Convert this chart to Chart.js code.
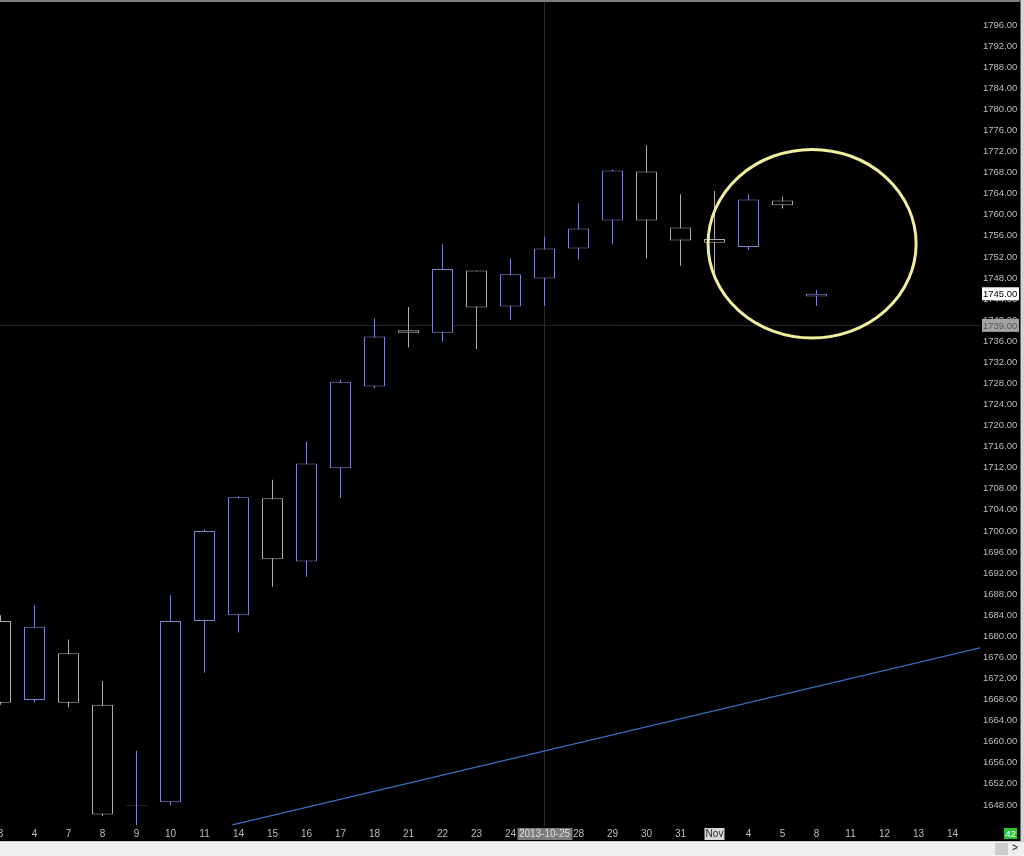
<!DOCTYPE html>
<html>
<head>
<meta charset="utf-8">
<title>candles</title>
<script src="https://cdn.jsdelivr.net/npm/chart.js"></script>
<style>
html, body { margin:0; padding:0; background:#000; }
#wrap { position:relative; width:1024px; height:856px; overflow:hidden; background:#000; }
#chartjs-0 { position:absolute; left:0; top:0; }
#topline { position:absolute; left:0; top:0; width:1024px; height:2px; background:#7d7d7d; }
#rightbar { position:absolute; left:1020px; top:0; width:4px; height:841px; background:#d4d4d4; border-left:1px solid #6a6a6a; box-sizing:border-box; }
#scroll { position:absolute; left:0; top:841px; width:1024px; height:15px; background:#f0f0f0; border-top:1px solid #c8c8c8; box-sizing:border-box; }
#thumb { position:absolute; left:995px; top:1px; width:13px; height:12px; background:#cdcdcd; }
#arrow { position:absolute; left:1012px; top:0px; font:bold 10px 'Liberation Sans', sans-serif; color:#505050; }
#count { position:absolute; left:1004px; top:828px; width:13px; height:11px; background:#2fbf2f; color:#fff; font:9.5px 'Liberation Sans',sans-serif; text-align:center; line-height:11px; }
</style>
</head>
<body>
<div id="wrap">
  <canvas id="chartjs-0" width="1020" height="841"></canvas>
  <div id="topline"></div>
  <div id="rightbar"></div>
  <div id="count">42</div>
  <div id="scroll"><div id="thumb"></div><div id="arrow">&gt;</div></div>
</div>
<script>
// bottom axis labels (one per bar slot, Oct -> Nov 2013)
var xLabels = ['3','4','7','8','9','10','11','14','15','16','17','18','21','22','23','24','25',
               '28','29','30','31','Nov','4','5','8','11','12','13','14'];

// daily candles
var open  = [1682.9, 1667.9, 1676.8, 1667.0, 1647.8, 1648.5, 1682.9, 1684.0, 1706.2, 1694.2, 1711.9, 1727.4, 1738.1,
             1737.6, 1749.4, 1742.6, 1747.9, 1753.6, 1758.9, 1768.2, 1757.6, 1755.4, 1753.9, 1762.7, 1744.5];
var high  = [1684.0, 1685.9, 1679.4, 1671.5, 1658.3, 1687.8, 1700.3, 1706.6, 1709.7, 1716.9, 1728.7, 1740.3, 1742.5,
             1754.4, 1749.4, 1751.7, 1755.8, 1762.2, 1768.6, 1773.2, 1763.9, 1764.5, 1763.9, 1763.4, 1745.7];
var low   = [1667.0, 1667.5, 1666.5, 1645.9, 1644.2, 1648.0, 1673.1, 1680.7, 1689.4, 1691.3, 1706.3, 1727.1, 1734.8,
             1735.9, 1734.5, 1740.0, 1742.7, 1751.5, 1754.4, 1751.7, 1750.3, 1747.8, 1753.3, 1761.2, 1742.7];
var close = [1667.4, 1681.8, 1667.4, 1646.2, 1647.9, 1682.9, 1700.0, 1706.4, 1694.6, 1712.8, 1728.3, 1736.9, 1737.6,
             1749.7, 1742.4, 1748.7, 1753.6, 1757.4, 1768.4, 1758.9, 1755.1, 1754.7, 1762.9, 1761.8, 1745.0];

// trend line, two anchors (x = bar slot)
var trendX = [6.82, 28.82];
var trendY = [1644.2, 1677.8];

// crosshair and last price
var crossIndex = 16, crossDate = '2013-10-25', crossPrice = 1739.00;
var lastPrice = close[close.length - 1];
var monthIndex = xLabels.indexOf('Nov');

// hand drawn ring around the last bars
var ringX = 23.87, ringY = 1754.5, ringRX = 3.06, ringRY = 17.9;

var upColor = '#8383cd', downColor = '#adadad';
var FONT = '"Liberation Sans", Arial, sans-serif';

var xMin = -0.5 / 34, xMax = xMin + 980 / 34;
var yMin = 1644, yMax = 1800.75;

var wicks = [], bodies = [], colors = [];
for (var i = 0; i < open.length; i++) {
	wicks.push({ x : i, y : [ low[i], high[i] ] });
	bodies.push({ x : i, y : [ open[i], close[i] ] });
	colors.push(close[i] >= open[i] ? upColor : downColor);
}

var overlay = {
	id : 'overlay',
	beforeDraw : function(chart) {
		// month label box sits behind the tick text
		var ctx = chart.ctx, px = chart.scales.x.getPixelForValue(monthIndex);
		ctx.save();
		ctx.fillStyle = '#d6d6d6';
		ctx.fillRect(px - 10, chart.chartArea.bottom + 2, 20, 12);
		ctx.restore();
	},
	afterDraw : function(chart) {
		var ctx = chart.ctx, sx = chart.scales.x, sy = chart.scales.y;
		ctx.save();

		// yellow ring
		var cx = sx.getPixelForValue(ringX), cy = sy.getPixelForValue(ringY);
		var rx = sx.getPixelForValue(ringX + ringRX) - cx;
		var ry = cy - sy.getPixelForValue(ringY + ringRY);
		ctx.strokeStyle = '#f2eea0';
		ctx.lineWidth = 3;
		ctx.beginPath();
		ctx.ellipse(cx, cy, rx, ry, 0, 0, Math.PI * 2);
		ctx.stroke();

		ctx.font = '10px ' + FONT;
		ctx.textBaseline = 'middle';

		// crosshair date on the time axis
		var dx = sx.getPixelForValue(crossIndex), by = chart.chartArea.bottom + 2;
		ctx.fillStyle = '#7c7c7c';
		ctx.fillRect(dx - 27, by, 55, 12);
		ctx.fillStyle = '#dedede';
		ctx.textAlign = 'center';
		ctx.fillText(crossDate, dx, by + 6.5);

		// price boxes on the right axis
		ctx.font = '9.5px ' + FONT;
		ctx.textAlign = 'left';
		var left = chart.chartArea.right + 2;
		var py = sy.getPixelForValue(crossPrice);
		ctx.fillStyle = '#a3a3a3';
		ctx.fillRect(left, py - 6.5, 37, 13);
		ctx.fillStyle = '#555555';
		ctx.fillText(crossPrice.toFixed(2), left + 1, py + 0.5);

		py = sy.getPixelForValue(lastPrice);
		ctx.fillStyle = '#ffffff';
		ctx.fillRect(left, py - 6.5, 37, 13);
		ctx.fillStyle = '#000000';
		ctx.fillText(lastPrice.toFixed(2), left + 1, py + 0.5);

		ctx.restore();
	}
};

new Chart(document.getElementById("chartjs-0"), {
	"type" : "bar",
	"data" : {
		"datasets" : [ {
			"type" : "line",	// crosshair, horizontal
			"data" : [ { x : xMin, y : crossPrice }, { x : xMax, y : crossPrice } ],
			"borderColor" : "#2a2a2a",
			"borderWidth" : 1,
			"pointRadius" : 0,
			"order" : 10
		}, {
			"type" : "line",	// crosshair, vertical
			"data" : [ { x : crossIndex, y : yMin }, { x : crossIndex, y : yMax } ],
			"borderColor" : "#2a2a2a",
			"borderWidth" : 1,
			"pointRadius" : 0,
			"order" : 9
		}, {
			"label" : "wick",
			"data" : wicks,
			"backgroundColor" : colors,
			"barThickness" : 1,
			"grouped" : false,
			"inflateAmount" : 0,
			"order" : 5
		}, {
			"label" : "body",
			"data" : bodies,
			"backgroundColor" : "#000000",
			"borderColor" : colors,
			"borderWidth" : 1,
			"borderSkipped" : false,
			"barThickness" : 21,
			"grouped" : false,
			"inflateAmount" : 0,
			"order" : 4
		}, {
			"type" : "line",	// trend line
			"data" : [ { x : trendX[0], y : trendY[0] }, { x : trendX[1], y : trendY[1] } ],
			"borderColor" : "#3b6fc4",
			"borderWidth" : 1.2,
			"pointRadius" : 0,
			"order" : 3
		} ]
	},
	"options" : {
		"responsive" : false,
		"animation" : false,
		"layout" : { "padding" : 0 },
		"plugins" : { "legend" : { "display" : false }, "tooltip" : { "enabled" : false } },
		"scales" : {
			"x" : {
				"type" : "linear",
				"min" : xMin,
				"max" : xMax,
				"offset" : false,
				"grid" : { "display" : false, "drawTicks" : false },
				"border" : { "display" : false },
				"ticks" : {
					"padding" : 2,
					"maxRotation" : 0,
					"autoSkip" : false,
					"font" : { "family" : FONT, "size" : 10 },
					"color" : function(c) { return c.tick && c.tick.value === monthIndex ? '#2a2a2a' : '#bdbdbd'; },
					"callback" : function(v) { return xLabels[v]; }
				},
				"afterBuildTicks" : function(s) {
					s.ticks = xLabels.map(function(l, i) { return { value : i }; });
				},
				"afterFit" : function(s) {
					s.height = 15;
					s.paddingLeft = 0;
					s.paddingRight = 0;
				}
			},
			"y" : {
				"position" : "right",
				"min" : yMin,
				"max" : yMax,
				"grid" : { "display" : false, "drawTicks" : false },
				"border" : { "display" : false },
				"ticks" : {
					"stepSize" : 4,
					"padding" : 3,
					"font" : { "family" : FONT, "size" : 9.5 },
					"color" : "#bdbdbd",
					"callback" : function(v) { return Number(v).toFixed(2); }
				},
				"afterBuildTicks" : function(s) {
					s.ticks = s.ticks.filter(function(t) { return t.value >= 1648 && t.value <= 1796; });
				},
				"afterFit" : function(s) {
					s.width = 40;
					s.paddingTop = 0;
					s.paddingBottom = 0;
				}
			}
		}
	},
	"plugins" : [ overlay ]
});
</script>
</body>
</html>
